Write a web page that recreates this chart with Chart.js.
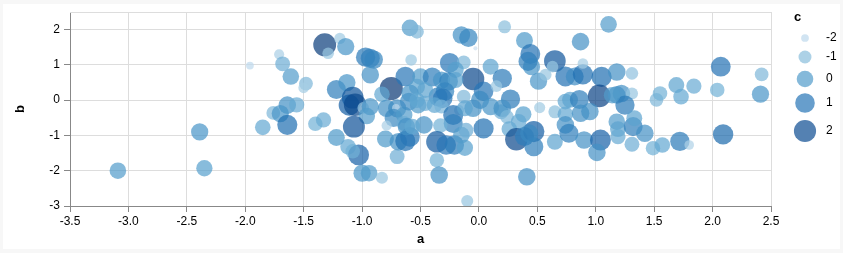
<!DOCTYPE html>
<html>
<head>
<meta charset="utf-8">
<script src="https://cdn.jsdelivr.net/npm/chart.js@4.4.1/dist/chart.umd.min.js"></script>
<style>
  html, body { margin: 0; padding: 0; background: #fff; }
  #chart { display: block; }
</style>
</head>
<body>
<canvas id="chart" width="843" height="253"></canvas>
<script>
// values
const aValues = [
  -3.09, -2.39, -2.35, -1.96, -1.71, -1.68, -1.61, -1.48, -1.50, -1.64,
  -1.56, -1.76, -1.70, -1.64, -1.85, -1.40, -1.32, -1.29, -1.19, -1.14,
  -0.97, -0.93, -0.90, -0.93, -0.75, -0.63, -0.83, -1.22, -1.13, -1.08,
  -1.11, -1.06, -0.99, -0.93, -0.96, -1.33, -1.07, -1.22, -1.12, -1.03,
  -1.08, -1.00, -0.94, -0.83, -0.80, -0.70, -0.69, -0.63, -0.59, -0.79,
  -0.70, -0.71, -0.73, -0.64, -0.79, -0.60, -0.64, -0.58, -0.59, -0.62,
  -0.53, -0.15, -0.09, -0.03, -0.25, -0.13, -0.20, -0.05, 0.04, 0.01,
  -0.05, 0.10, -0.50, -0.40, -0.32, -0.26, -0.20, -0.29, -0.35, -0.31,
  -0.46, -0.53, -0.59, -0.52, -0.46, -0.38, -0.32, -0.13, -0.17, -0.22,
  -0.22, -0.12, 0.10, 0.19, -0.47, -0.57, -0.33, -0.36, -0.28, -0.21,
  -0.12, -0.15, -0.11, 0.04, -0.36, -0.34, -0.10, 0.22, 0.39, 0.44,
  0.45, 0.51, 0.57, 0.65, 0.63, 0.74, 0.82, 0.89, 0.87, 0.89,
  0.20, 0.15, 0.27, 0.20, 0.24, 0.38, 0.34, 0.26, 0.32, 0.39,
  0.47, 0.47, 0.43, 0.52, 0.65, 0.65, 0.74, 0.74, 0.78, 0.86,
  0.74, 0.77, 0.87, 0.90, 0.41, 1.11, 1.05, 1.18, 1.31, 1.03,
  0.95, 1.18, 1.22, 1.31, 1.25, 1.14, 1.18, 1.19, 1.19, 1.32,
  1.33, 1.42, 1.31, 1.04, 1.01, 1.49, 1.57, 1.52, 1.55, 1.69,
  1.73, 1.72, 1.84, 2.07, 2.04, 2.42, 2.41, 2.09, 1.80, -0.53,
  0.42
];
const bValues = [
  -2.00, -0.90, -1.93, 0.98, 1.30, 1.03, 0.67, 0.47, 0.35, -0.14,
  -0.13, -0.36, -0.38, -0.70, -0.77, -0.67, 1.57, 1.33, 1.75, 1.52,
  1.22, 1.19, 1.15, 0.72, 0.33, 0.67, 0.17, 0.30, 0.50, 0.07,
  -0.14, -0.13, -0.22, -0.18, -0.45, -0.56, -0.75, -1.06, -1.32, -1.55,
  -1.45, -2.07, -2.07, -2.20, -1.10, -1.60, -1.18, -1.16, -1.04, -0.23,
  -0.23, -0.22, -0.50, -0.42, -0.72, -0.04, -0.66, 1.14, 2.05, -0.75,
  1.94, 1.85, 1.77, 1.47, 1.06, 1.07, 0.86, 0.60, 0.25, 0.01,
  -0.23, 0.95, 0.67, 0.66, 0.57, 0.53, 0.57, 0.25, 0.10, 0.05,
  0.29, 0.38, 0.20, -0.14, -0.09, -0.14, -0.18, 0.10, -0.28, -0.42,
  -0.66, -0.23, -0.18, -0.33, -0.70, -0.75, -0.72, -1.18, -1.27, -1.27,
  -1.35, -0.99, -0.85, -0.80, -1.70, -2.12, -2.86, 2.08, 1.69, 1.31,
  0.95, 0.54, 0.72, 1.11, 0.95, 0.67, 0.67, 0.73, 1.66, 1.04,
  0.62, 0.40, 0.03, -0.23, -0.47, -0.40, -0.61, -0.82, -1.11, -1.03,
  -0.89, -1.32, -0.94, -0.21, -0.33, -1.18, -0.40, -0.04, 0.01, 0.02,
  -0.70, -0.94, -0.37, -1.13, -2.17, 2.15, 0.66, 0.80, 0.76, 0.12,
  -0.32, 0.15, 0.19, 0.19, -0.14, 0.14, -0.61, -0.82, -1.03, -0.75,
  -0.51, -0.94, -1.25, -1.13, -1.48, -1.36, -1.27, 0.01, 0.19, 0.43,
  0.10, -1.17, 0.40, 0.95, 0.29, 0.73, 0.17, -0.97, -1.27, 0.00,
  1.10
];
const cValues = [
  0.0, 0.2, -0.1, -2.0, -1.6, -0.5, 0.0, -0.8, -1.5, 0.3,
  -0.4, -0.8, 0.2, 1.2, -0.3, -0.6, 2.3, -1.3, -1.4, 0.2,
  0.9, 0.8, 0.6, 0.3, 2.4, 1.0, -0.3, 0.8, 0.2, 1.8,
  1.6, 2.1, -1.3, 0.2, 0.0, -0.4, 1.9, 0.1, -0.3, 1.5,
  -0.6, 0.2, 0.0, -1.2, 0.1, -0.5, 0.3, 1.2, 1.0, 0.3,
  0.5, -2.0, 0.5, 0.0, -1.6, 0.4, -0.5, -1.3, 0.0, 0.3,
  -0.8, 0.3, 0.6, -2.4, 1.0, -0.8, -0.1, 2.1, 1.0, 0.5,
  0.3, -0.2, 0.0, 0.8, 0.2, 0.7, -0.2, 0.6, 0.8, 1.0,
  -0.2, -0.2, 0.2, 0.0, -0.4, -0.3, -0.7, -0.8, -1.6, 1.2,
  0.8, -0.2, 0.2, -0.5, 0.3, -0.3, -0.6, 1.7, 1.0, 0.9,
  -0.1, 0.0, -0.5, 1.2, -0.6, 0.3, -1.2, -1.0, 0.1, 1.1,
  0.2, 0.2, -1.2, 1.8, -1.3, 1.1, 0.4, 1.2, 0.3, -1.5,
  0.9, -1.3, 0.9, 0.3, -0.8, -0.1, -0.3, -0.3, 2.1, 0.8,
  1.6, 0.8, 0.5, -1.4, -1.0, -0.2, -0.3, -0.3, -0.2, 0.8,
  0.3, 0.8, 0.3, 0.3, 0.3, 0.0, 1.2, 0.3, -1.1, 2.2,
  0.3, 0.3, 0.3, -1.2, 0.9, 0.0, 0.0, -0.2, -0.4, 0.8,
  -0.2, 0.3, -0.5, 1.5, 0.3, -0.6, -0.3, -0.8, -0.6, -0.2,
  -0.3, 0.9, -0.4, 1.1, -0.6, -0.8, 0.2, 1.3, -1.7, -0.3,
  0.8
];
const xTicks = [-3.5, -3.0, -2.5, -2.0, -1.5, -1.0, -0.5, 0.0, 0.5, 1.0, 1.5, 2.0, 2.5];
const yTicks = [-3, -2, -1, 0, 1, 2];
const legendValues = [-2, -1, 0, 1, 2];

const FONT = '"Liberation Sans", Arial, sans-serif';
const C_MIN = -2.45, C_MAX = 2.5;
const blues = ['#cfe1f2', '#bed8ec', '#a8cee5', '#8fc1de', '#74b2d7', '#5ba3cf',
               '#4592c6', '#3181bd', '#206fb2', '#125ca4', '#0a4a90', '#08306b'];

function hexRgb(h) {
    return [1, 3, 5].map(i => parseInt(h.slice(i, i + 2), 16));
}

function colorFor(c, alpha) {
    let t = (c - C_MIN) / (C_MAX - C_MIN);
    t = Math.max(0, Math.min(1, t)) * (blues.length - 1);
    const i = Math.min(blues.length - 2, Math.floor(t));
    const f = t - i;
    const p = hexRgb(blues[i]), q = hexRgb(blues[i + 1]);
    const rgb = p.map((v, k) => Math.round(v + (q[k] - v) * f));
    return `rgba(${rgb[0]},${rgb[1]},${rgb[2]},${alpha})`;
}

function radiusFor(c) {
    return Math.sqrt(Math.max(2.25, 69 + 27 * c));
}

const points = aValues.map((a, i) => ({ x: a, y: bValues[i], c: cValues[i] }));

// frame, top border line and the size/colour legend
const extras = {
    id: 'extras',
    beforeDraw(chart) {
        const ctx = chart.ctx;
        ctx.save();
        ctx.fillStyle = '#f7f7f7';
        ctx.fillRect(0, 0, chart.width, chart.height);
        ctx.fillStyle = '#fff';
        ctx.fillRect(3, 4, chart.width - 6, chart.height - 8);
        ctx.restore();
    },
    beforeDatasetsDraw(chart) {
        const { ctx, chartArea } = chart;
        ctx.save();
        ctx.strokeStyle = '#ddd';
        ctx.lineWidth = 1;
        ctx.beginPath();
        ctx.moveTo(chartArea.left, chartArea.top + 0.5);
        ctx.lineTo(chartArea.right, chartArea.top + 0.5);
        ctx.stroke();
        ctx.restore();
    },
    afterDraw(chart) {
        const ctx = chart.ctx;
        const ys = [38, 57, 79, 103, 131];
        ctx.save();
        ctx.fillStyle = '#000';
        ctx.font = 'bold 13px ' + FONT;
        ctx.textBaseline = 'middle';
        ctx.textAlign = 'left';
        ctx.fillText('c', 794, 17);
        ctx.font = '12px ' + FONT;
        legendValues.forEach((v, i) => {
            ctx.beginPath();
            ctx.arc(805, ys[i], radiusFor(v), 0, Math.PI * 2);
            ctx.fillStyle = colorFor(v, 0.7);
            ctx.fill();
            ctx.fillStyle = '#000';
            ctx.fillText(String(v), 826, ys[i]);
        });
        ctx.restore();
    }
};

new Chart(document.getElementById('chart'), {
    type: 'scatter',
    data: {
        datasets: [{
            data: points,
            pointRadius: ctx => ctx.raw ? radiusFor(ctx.raw.c) : 3,
            pointBackgroundColor: ctx => ctx.raw ? colorFor(ctx.raw.c, 0.7) : '#000',
            pointBorderWidth: 0,
            pointBorderColor: 'rgba(0,0,0,0)'
        }]
    },
    options: {
        responsive: false,
        animation: false,
        events: [],
        layout: { padding: { left: 0, right: 72, top: 12, bottom: 0 } },
        plugins: { legend: { display: false }, tooltip: { enabled: false } },
        scales: {
            x: {
                type: 'linear',
                min: -3.5,
                max: 2.5,
                afterBuildTicks: scale => { scale.ticks = xTicks.map(v => ({ value: v })); },
                afterFit: scale => { scale.height = 47; },
                ticks: {
                    callback: v => v.toFixed(1),
                    font: { size: 12, family: FONT },
                    color: '#000',
                    padding: 2,
                    maxRotation: 0,
                    autoSkip: false
                },
                grid: { color: '#ddd', tickColor: '#888', tickLength: 6 },
                border: { color: '#888' },
                title: {
                    display: true, text: 'a', color: '#000',
                    font: { size: 13, weight: 'bold', family: FONT },
                    padding: { top: 0, bottom: 6 }
                }
            },
            y: {
                type: 'linear',
                min: -3,
                max: 2.5,
                afterBuildTicks: scale => { scale.ticks = yTicks.map(v => ({ value: v })); },
                afterFit: scale => { scale.width = 70; },
                ticks: {
                    callback: v => String(v),
                    font: { size: 12, family: FONT },
                    color: '#000',
                    padding: 4,
                    autoSkip: false
                },
                grid: { color: '#ddd', tickColor: '#888', tickLength: 6 },
                border: { color: '#888' },
                title: {
                    display: true, text: 'b', color: '#000',
                    font: { size: 13, weight: 'bold', family: FONT },
                    padding: { top: 13, bottom: 0 }
                }
            }
        }
    },
    plugins: [extras]
});
</script>
</body>
</html>
